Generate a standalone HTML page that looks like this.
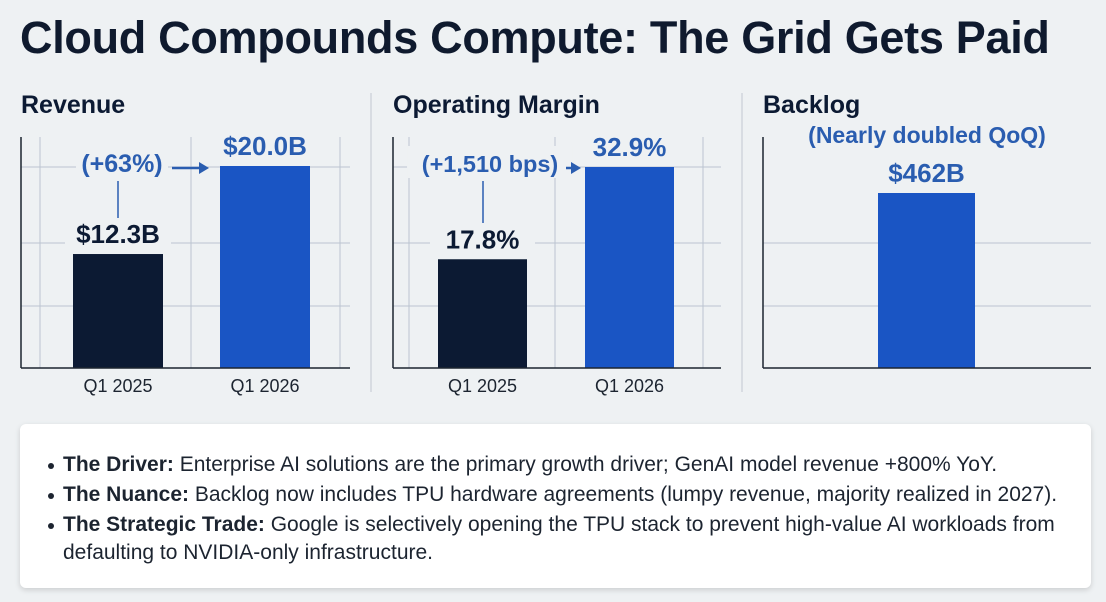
<!DOCTYPE html>
<html><head><meta charset="utf-8"><style>
body{margin:0;width:1106px;height:602px;background:#eef1f3;font-family:"Liberation Sans",sans-serif;overflow:hidden;position:relative}
h1{position:absolute;left:20px;top:12px;margin:0;font-size:45px;font-weight:bold;color:#0f1a2e;letter-spacing:-0.3px;white-space:nowrap}
.box{position:absolute;left:20px;top:424px;width:1071px;height:164px;background:#fff;border-radius:6px;box-shadow:0 2px 6px rgba(0,0,0,0.15)}
.box ul{margin:0;padding:0;list-style:none;position:absolute;left:27px;top:27px;width:1035px;font-size:21px;color:#1c2430;line-height:28px}
.box li{position:relative;padding-left:16px;margin-bottom:2px}
.box li:before{content:"";position:absolute;left:1px;top:12px;width:6px;height:6px;border-radius:50%;background:#1c2430}
</style></head><body>
<h1>Cloud Compounds Compute: The Grid Gets Paid</h1>
<svg id="chart" width="1106" height="420" style="position:absolute;left:0;top:0"></svg>
<div class="box"><ul>
<li><b>The Driver:</b> Enterprise AI solutions are the primary growth driver; GenAI model revenue +800% YoY.</li>
<li><b>The Nuance:</b> Backlog now includes TPU hardware agreements (lumpy revenue, majority realized in 2027).</li>
<li><b>The Strategic Trade:</b> Google is selectively opening the TPU stack to prevent high-value AI workloads from defaulting to NVIDIA-only infrastructure.</li>
</ul></div>
<script>
const revenueCats=["Q1 2025","Q1 2026"];
const revenueVals=[12.3,20.0];
const revenueLabels=["$12.3B","$20.0B"];
const marginCats=["Q1 2025","Q1 2026"];
const marginVals=[17.8,32.9];
const marginLabels=["17.8%","32.9%"];
const backlogVals=[462];
const backlogLabels=["$462B"];
const NS="http://www.w3.org/2000/svg";
const svg=document.getElementById('chart');
function mk(t,a,txt){const e=document.createElementNS(NS,t);for(const k in a)e.setAttribute(k,a[k]);if(txt!==undefined)e.textContent=txt;svg.appendChild(e);return e;}
const BASE=368, TOP=137;
const GRID="#bcc4d0", DARK="#0c1a33", BLUE="#1a55c4", ABLUE="#2a5db0";
function panel(o){
  o.vgrid.forEach(x=>{const l=mk('line',{x1:x,x2:x,y1:TOP,y2:BASE,stroke:GRID,'stroke-width':1});});
  [167,243,306].forEach((y,i)=>{if(o.skipTop&&i==0)return;const l=mk('line',{x1:o.ax,x2:o.end,y1:y,y2:y,stroke:GRID,'stroke-width':1});});
  const y=v=>BASE-(v-o.min)/(o.max-o.min)*o.h;
  o.vals.forEach((v,i)=>{
    const x=o.bx[i];
    if(o.labelBg){const bg=mk('rect',{x:x-8,y:y(v)-34,width:o.bw+16,height:30,fill:'#eef1f3'});}
    const r=mk('rect',{x:x,y:y(v),width:o.bw,height:BASE-y(v),fill:o.colors[i]});
    
    
    const t=mk('text',{x:x+o.bw/2,y:y(v)-11,'text-anchor':'middle','font-size':26,'font-weight':'bold',fill:i==o.vals.length-1?ABLUE:DARK},o.labels[i]);
    
    
    if(o.cats){const c=mk('text',{x:x+o.bw/2,y:392,'text-anchor':'middle','font-size':18,fill:'#1c2430'},o.cats[i]);}
  });
  mk('line',{x1:o.ax,x2:o.ax,y1:TOP,y2:BASE,stroke:'#1c2430','stroke-width':1.5});
  mk('line',{x1:o.ax,x2:o.end,y1:BASE,y2:BASE,stroke:'#1c2430','stroke-width':1.5});
  const tt=mk('text',{x:o.ax,y:113,'font-size':25,'font-weight':'bold',fill:DARK},o.title);
  
  return y;
}
mk('line',{x1:371,x2:371,y1:93,y2:392,stroke:'#c9cfd8','stroke-width':1.2});
mk('line',{x1:742,x2:742,y1:93,y2:392,stroke:'#c9cfd8','stroke-width':1.2});
panel({id:'revenue',title:'Revenue',ax:21,end:350,vgrid:[40,191,340],bx:[73,220],bw:90,vals:revenueVals,labels:revenueLabels,cats:revenueCats,min:2.33,max:20.0,h:202,colors:[DARK,BLUE],labelBg:true});
panel({id:'margin',title:'Operating Margin',ax:393,end:721,vgrid:[409,555,703],bx:[438,585],bw:89,vals:marginVals,labels:marginLabels,cats:marginCats,min:0,max:32.9,h:201,colors:[DARK,BLUE],labelBg:true});
panel({id:'backlog',title:'Backlog',ax:763,end:1091,vgrid:[],bx:[878],bw:97,vals:backlogVals,labels:backlogLabels,min:0,max:462,h:175,colors:[BLUE],skipTop:true});
function ann(lbl,cx,lx,ax1,ax2,ly2,name,fs){
  const w=lbl.length*fs*0.56;
  const bg=mk('rect',{x:cx-w/2-4,y:146,width:w+8,height:32,fill:'#eef1f3'});
  const t=mk('text',{x:cx,y:172,'text-anchor':'middle','font-size':fs,'font-weight':'bold',fill:ABLUE},lbl);
  
  mk('line',{x1:lx,x2:lx,y1:181,y2:ly2,stroke:ABLUE,'stroke-width':1.5});
  mk('line',{x1:ax1,x2:ax2-8,y1:168,y2:168,stroke:ABLUE,'stroke-width':2.5});
  mk('path',{d:`M${ax2-10},162 L${ax2},168 L${ax2-10},174 Z`,fill:ABLUE});
}
ann('(+63%)',122,118,172,209,218,'revenue-growth-annotation',25);
ann('(+1,510 bps)',490,483,566,581,223,'margin-growth-annotation',23.5);
const nq=mk('text',{x:927,y:143,'text-anchor':'middle','font-size':23,'font-weight':'bold',fill:ABLUE},'(Nearly doubled QoQ)');

</script>
</body></html>
